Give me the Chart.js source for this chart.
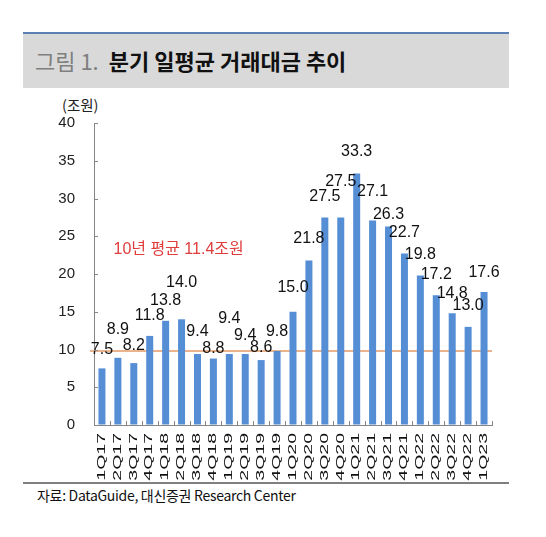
<!DOCTYPE html>
<html>
<head>
<meta charset="utf-8">
<script src="https://cdn.jsdelivr.net/npm/chart.js@4.4.0/dist/chart.umd.min.js"></script>
<style>
  html, body { margin:0; padding:0; background:#fff; width:546px; height:537px; overflow:hidden; }
  #wrap { position:relative; width:546px; height:537px; }
  #topline { position:absolute; left:23px; top:32px; width:486px; height:2px; background:#5b80b6; }
  #band { position:absolute; left:23px; top:34px; width:486px; height:54px; background:#d9d9d9; }
  #title { position:absolute; left:35px; top:45px; font-family:"Noto Sans CJK KR", sans-serif; font-size:22px; white-space:nowrap; line-height:30px; }
  #title .fig { color:#7f7f7f; font-weight:400; margin-right:10px; }
  #title .main { color:#111; font-weight:700; }
  #unit { position:absolute; left:62px; top:96px; font-family:"Noto Sans CJK KR", sans-serif; font-size:14.5px; color:#222; line-height:18px; }
  #srcline { position:absolute; left:23px; top:482px; width:486px; height:2px; background:#7f7f7f; }
  #src { position:absolute; left:37px; top:486px; font-family:"Liberation Sans Narrow","Noto Sans CJK KR", sans-serif; font-size:14px; color:#111; line-height:18px; white-space:nowrap; letter-spacing:-0.3px; }
  canvas { position:absolute; left:0; top:0; }
</style>
</head>
<body>
<div id="wrap">
  <div id="topline"></div>
  <div id="band"></div>
  <div id="title"><span class="fig">그림 1.</span><span class="main">분기 일평균 거래대금 추이</span></div>
  <div id="unit">(조원)</div>
  <div id="srcline"></div>
  <div id="src">자료: DataGuide, 대신증권 Research Center</div>
  <canvas id="c" width="546" height="537"></canvas>
</div>
<script>
const categories = ['1Q17','2Q17','3Q17','4Q17','1Q18','2Q18','3Q18','4Q18','1Q19','2Q19','3Q19','4Q19','1Q20','2Q20','3Q20','4Q20','1Q21','2Q21','3Q21','4Q21','1Q22','2Q22','3Q22','4Q22','1Q23'];
const values = [7.5, 8.9, 8.2, 11.8, 13.8, 14.0, 9.4, 8.8, 9.4, 9.4, 8.6, 9.8, 15.0, 21.8, 27.5, 27.5, 33.3, 27.1, 26.3, 22.7, 19.8, 17.2, 14.8, 13.0, 17.6];
const yTicks = [0, 5, 10, 15, 20, 25, 30, 35, 40];
const avgLineValue = 9.8;
const avgText = '10년 평균 11.4조원';
// label lift above each bar top (px), style only
const labelLift = [19,28,17,20,20,37,22,10,35,18,12,19,24,22,21,36,22,29,12,21,21,21,20,21,20];

const AXIS = '#868686';

const customDraw = {
  id: 'customDraw',
  beforeDatasetsDraw(chart) {
    const {ctx, chartArea, scales: {y}} = chart;
    const py = y.getPixelForValue(avgLineValue);
    ctx.save();
    ctx.strokeStyle = '#e39a64';
    ctx.lineWidth = 1.5;
    ctx.beginPath();
    ctx.moveTo(chartArea.left - 4, py);
    ctx.lineTo(chartArea.right, py);
    ctx.stroke();
    ctx.restore();
  },
  afterDatasetsDraw(chart) {
    const {ctx, chartArea, scales: {x, y}} = chart;
    const meta = chart.getDatasetMeta(0);
    ctx.save();
    // value labels
    ctx.font = '16px "Liberation Sans", Arial, sans-serif';
    ctx.fillStyle = '#111';
    ctx.textAlign = 'center';
    ctx.textBaseline = 'middle';
    meta.data.forEach((bar, i) => {
      ctx.fillText(values[i].toFixed(1), bar.x, bar.y - labelLift[i]);
    });
    // average annotation
    ctx.font = '16px "Liberation Sans","Noto Sans CJK KR", sans-serif';
    ctx.fillStyle = '#e03c3c';
    ctx.textAlign = 'left';
    ctx.fillText(avgText, chartArea.left + 19.5, y.getPixelForValue(23.2));
    // inner ticks on y axis
    ctx.strokeStyle = AXIS;
    ctx.lineWidth = 1;
    yTicks.forEach(v => {
      const py = Math.round(y.getPixelForValue(v)) + 0.5;
      ctx.beginPath();
      ctx.moveTo(chartArea.left, py);
      ctx.lineTo(chartArea.left + 4, py);
      ctx.stroke();
    });
    // inner ticks on x axis (between categories)
    const half = (x.getPixelForValue(1) - x.getPixelForValue(0)) / 2;
    for (let i = 0; i <= categories.length; i++) {
      const px = Math.round(x.getPixelForValue(i) - half) + 0.5;
      ctx.beginPath();
      ctx.moveTo(px, chartArea.bottom);
      ctx.lineTo(px, chartArea.bottom - 4);
      ctx.stroke();
    }
    // rotated, stretched category labels
    ctx.font = '10px "Liberation Sans", Arial, sans-serif';
    ctx.fillStyle = '#111';
    ctx.textAlign = 'right';
    ctx.textBaseline = 'middle';
    categories.forEach((lab, i) => {
      const px = x.getPixelForValue(i);
      ctx.save();
      ctx.translate(px, chartArea.bottom + 8);
      ctx.rotate(-Math.PI / 2);
      ctx.scale(1.95, 1);
      ctx.fillText(lab, 0, 0);
      ctx.restore();
    });
    ctx.restore();
  }
};

new Chart(document.getElementById('c'), {
  type: 'bar',
  data: {
    labels: categories,
    datasets: [{
      data: values,
      backgroundColor: '#558ed5',
      borderWidth: 0,
      barPercentage: 0.44,
      categoryPercentage: 1.0
    }]
  },
  options: {
    responsive: false,
    animation: false,
    devicePixelRatio: 1,
    layout: { padding: { left: 0, right: 54, top: 123, bottom: 0 } },
    plugins: { legend: { display: false }, tooltip: { enabled: false }, title: { display: false } },
    scales: {
      x: {
        type: 'category',
        offset: true,
        grid: { display: true, drawOnChartArea: false, drawTicks: false },
        border: { display: true, color: AXIS, width: 1 },
        ticks: { display: false },
        afterFit(s) { s.height = 112; }
      },
      y: {
        min: 0, max: 40,
        afterBuildTicks(s) { s.ticks = yTicks.map(v => ({ value: v })); },
        grid: { display: true, drawOnChartArea: false, drawTicks: false },
        border: { display: true, color: AXIS, width: 1 },
        ticks: {
          padding: 19,
          color: '#222',
          font: { family: '"Liberation Sans", Arial, sans-serif', size: 15 }
        },
        afterFit(s) { s.width = 94; }
      }
    }
  },
  plugins: [customDraw]
});
</script>
</body>
</html>
